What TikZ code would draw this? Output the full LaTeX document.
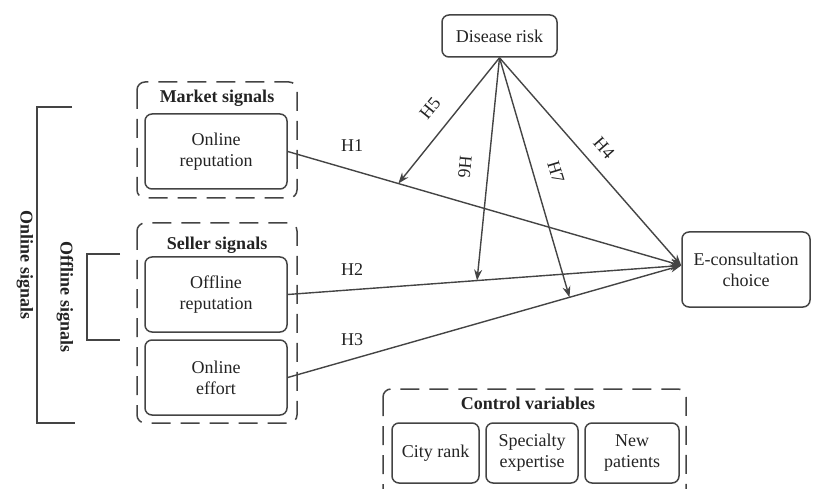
\documentclass[tikz,border=0pt]{standalone}
\usepackage{fontspec}
\setmainfont{Liberation Serif}
\usepackage{xcolor}
\usetikzlibrary{calc,arrows.meta}
\definecolor{ink}{RGB}{68, 68, 68}
\definecolor{txt}{RGB}{35, 35, 35}

\begin{document}
\begin{tikzpicture}[x=1pt, y=-1pt, >={Stealth[length=11pt, width=8pt]},
  font=\fontsize{18}{21}\selectfont,
  var/.style={draw=ink, line width=1.5pt, rounded corners=7pt, align=center, text=txt, inner sep=0pt},
  group/.style={draw=ink, line width=1.5pt, rounded corners=8pt, dash pattern=on 19pt off 10pt},
  head/.style={font=\fontsize{18}{21}\selectfont\bfseries, text=txt},
  link/.style={->, draw=ink, line width=1.4pt},
  bracket/.style={draw=ink, line width=1.4pt},
  hyp/.style={text=txt}]
  \clip (0,0) rectangle (814,489);

  % Groups
  \draw[group] (137,82) rectangle (297,198);
  \node[head] (mkt) at (217,98) {Market signals};
  \draw[group] (137,223) rectangle (297,423);
  \node[head] (sel) at (217,245) {Seller signals};
  \draw[group] (383,389) rectangle (686,505);
  \node[head] (ctl) at (528,403) {Control variables};

  % Variables
  \node[var, minimum width=142pt, minimum height=75pt] (onrep) at (216,151.5) {Online\\reputation};
  \node[var, minimum width=142pt, minimum height=75pt] (offrep) at (216,294.5) {Offline\\reputation};
  \node[var, minimum width=142pt, minimum height=75pt] (effort) at (216,377.5) {Online\\effort};
  \node[var, minimum width=115pt, minimum height=42pt] (risk) at (499.5,36) {Disease risk};
  \node[var, minimum width=128pt, minimum height=75pt] (choice) at (746,269.5) {E-consultation\\choice};
  \node[var, minimum width=87pt, minimum height=60pt] (city) at (435.5,453) {City rank};
  \node[var, minimum width=92pt, minimum height=60pt] (spec) at (532,453) {Specialty\\expertise};
  \node[var, minimum width=94pt, minimum height=60pt] (newp) at (632,453) {New\\patients};

  % Brackets
  \draw[bracket] (72,107) -- (37,107) -- (37,423) -- (75,423);
  \node[head, rotate=-90] (onsig) at (25,265) {Online signals};
  \draw[bracket] (120,254) -- (87,254) -- (87,340) -- (120,340);
  \node[head, rotate=-90] (offsig) at (65,297) {Offline signals};

  % Main effects
  \coordinate (tgt) at ($(choice.west)+(0,-4)$);
  \draw[link] (onrep.east) -- (tgt);
  \draw[link] (offrep.east) -- (tgt);
  \draw[link] (effort.east) -- (tgt);
  \draw[link] (risk.south) -- (tgt);
  \node[hyp] (h1) at (352,146) {H1};
  \node[hyp] (h2) at (352,270) {H2};
  \node[hyp] (h3) at (352,340) {H3};

  % Moderation
  \coordinate (m5) at ($(onrep.east)!0.281!(tgt)$);
  \coordinate (m6) at ($(offrep.east)!0.481!(tgt)$);
  \coordinate (m7) at ($(effort.east)!0.716!(tgt)$);
  \draw[link] (risk.south) -- (m5);
  \draw[link] (risk.south) -- (m6);
  \draw[link] (risk.south) -- (m7);
  \node[hyp, rotate=51] (h5) at (430,108) {H5};
  \node[hyp, rotate=-95] (h6) at (465,167) {H6};
  \node[hyp, rotate=-73] (h7) at (556,172) {H7};
  \node[hyp, rotate=-49] (h4) at (604,148) {H4};
\end{tikzpicture}
\end{document}
